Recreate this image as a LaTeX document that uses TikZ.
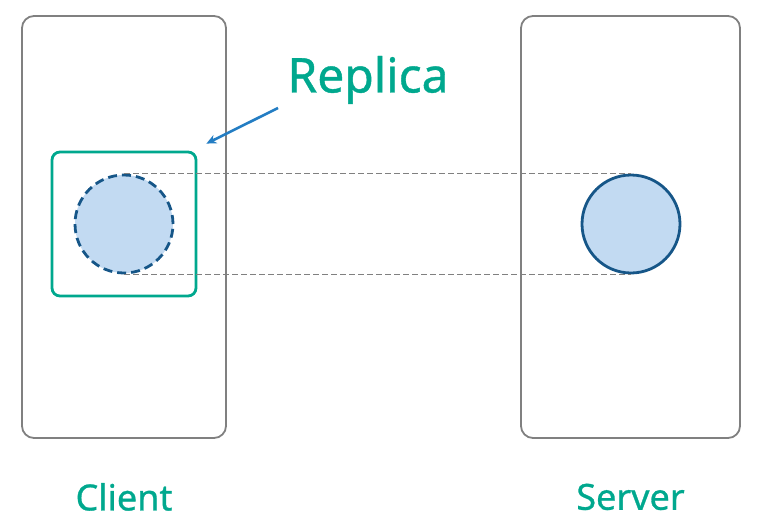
\documentclass[tikz,border=0pt]{standalone}
\usepackage{fontspec}
\usetikzlibrary{arrows.meta}
\setmainfont{Noto Sans}[FakeBold=0.8]
\definecolor{teal}{RGB}{0,168,142}
\definecolor{ballfill}{RGB}{194,218,242}
\definecolor{balledge}{RGB}{22,86,136}
\definecolor{arrowblue}{RGB}{35,125,195}
\begin{document}
\begin{tikzpicture}[x=1pt,y=-1pt]
    \tikzstyle{host}=[draw=black!50, line width=1.8pt, rounded corners=12pt]
    \tikzstyle{obj}=[circle, draw=balledge, fill=ballfill, line width=2.8pt,
                            inner sep=0pt, minimum size=98pt]
    \tikzstyle{lbl}=[text=teal, font=\fontsize{36}{42}\selectfont\bfseries]
    \useasboundingbox (0,0) rectangle (762,527);

    \node[host, minimum width=204pt, minimum height=422pt] (client) at (124,227) {};
    \node[host, minimum width=219pt, minimum height=422pt] (server) at (630.5,227) {};
    \node[draw=teal, line width=2.8pt, rounded corners=8pt,
          minimum size=144pt] (box) at (124,224) {};

    \node[obj, dashed, dash pattern=on 9pt off 5pt] (copy) at (124,224) {};
    \node[obj] (orig) at (631,224) {};

    \draw[gray, line width=0.9pt, dash pattern=on 6pt off 3pt]
        (copy.north) -- (orig.north) (copy.south) -- (orig.south);

    \node[lbl, font=\fontsize{48}{56}\selectfont\bfseries] (replica) at (368,80) {Replica};
    \coordinate (tail) at (278,108);
    \coordinate (tip) at ([shift={(9,-7)}]box.north east);
    \draw[arrowblue, line width=2.6pt, -{Stealth[length=10pt,width=9pt]}] (tail) -- (tip);

    \node[lbl] at (client.south) [yshift=-58pt] {Client};
    \node[lbl] at (server.south) [yshift=-58pt] {Server};
\end{tikzpicture}
\end{document}
